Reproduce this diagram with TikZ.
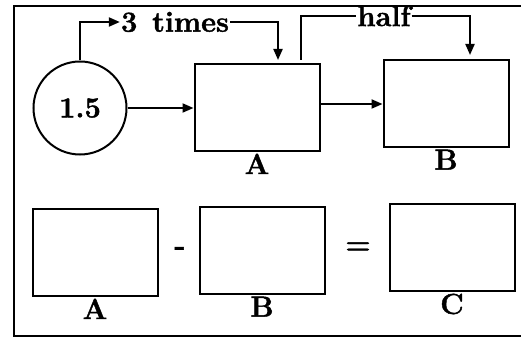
\documentclass[tikz,border=0pt]{standalone}
\usepackage{fontspec}
\setmainfont{Latin Modern Roman}[BoldFeatures={FakeBold=1.5}]
\usetikzlibrary{positioning,arrows.meta}

\tikzset{
  box/.style={draw, line width=2pt, minimum width=125pt, minimum height=87pt, inner sep=0pt},
  txt/.style={font=\fontsize{29}{33}\selectfont\bfseries, inner sep=1pt},
  conn/.style={line width=2pt, -{Triangle[length=11pt,width=9pt]}},
  plain/.style={line width=2pt},
}

\begin{document}
\begin{tikzpicture}[x=1pt,y=-1pt]
	\useasboundingbox (0,0) rectangle (521,339);
	% Rahmen
	\draw[plain] (521,6) -- (14,6) -- (14,336) -- (521,336);
	% obere Reihe
	\node[draw, circle, line width=2pt, minimum size=93pt, txt] (num) at (80,108) {1.5};
	\node[box] (topA) at (257,108) {};
	\node[box] (topB) at (446,104) {};
	\node[txt, below=0pt of topA] (labA) {A};
	\node[txt, below=0pt of topB] (labB) {B};
	\node[txt] (times) at (175,22) {3\hspace{4pt} times};
	\node[txt] (half) at (384,16) {half};
	% Pfeile
	\draw[conn] (num) -- (topA);
	\draw[conn] (topA.east |- topB) -- (topB);
	\coordinate (tdown) at (278,60);
	\coordinate (hup) at (301,60);
	\coordinate (hdown) at (470,55);
	\draw[conn] (num.north) |- (times.west);
	\draw[conn] (times.east) -| (tdown);
	\draw[plain] (hup) |- (half.west);
	\draw[conn] (half.east) -| (hdown);
	% untere Reihe
	\node[box] (botA) at (95,252) {};
	\node[box] (botB) at (262,250) {};
	\node[box] (botC) at (452,247) {};
	\node[txt, below=1pt of botA] (labA2) {A};
	\node[txt, below=1pt of botB] (labB2) {B};
	\node[txt, below=1pt of botC] (labC) {C};
	\node[txt] (minus) at (180,251) {-};
	\node[txt] (equals) at (358,248) {=};
\end{tikzpicture}
\end{document}
